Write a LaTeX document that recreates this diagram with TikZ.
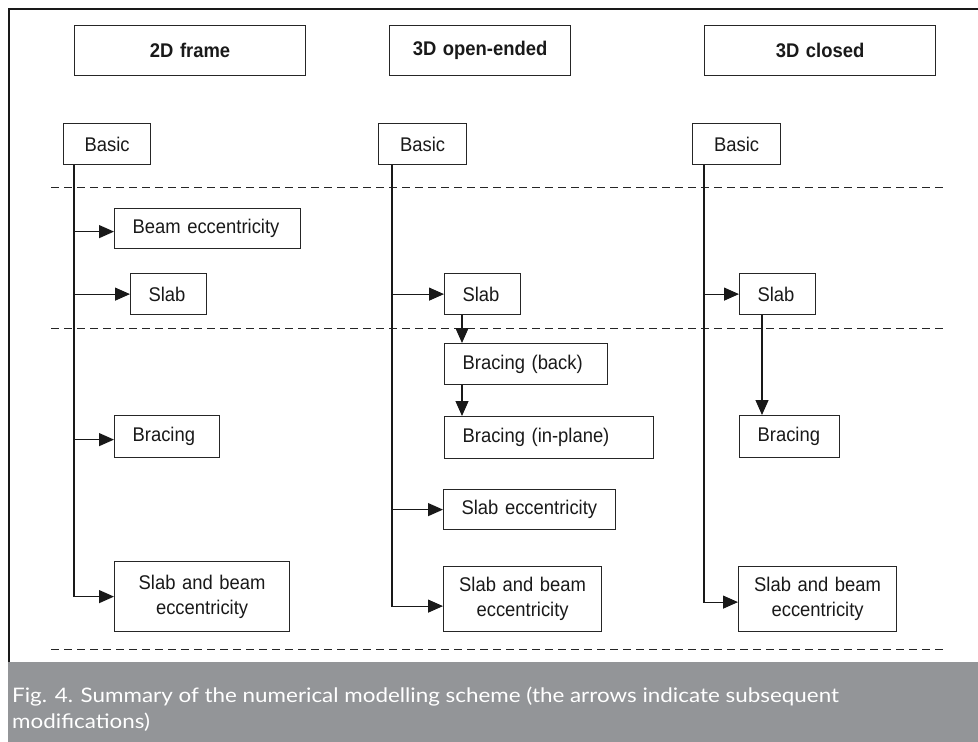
\documentclass[tikz,border=0pt]{standalone}
\usepackage{fontspec}
\setmainfont[FakeStretch=0.93]{Liberation Sans}
\newfontfamily\capfont[FakeStretch=1.12]{Lato}
\usetikzlibrary{arrows.meta,positioning,calc}
\definecolor{band}{RGB}{147,149,152}

\begin{document}
\begin{tikzpicture}[x=1pt,y=-1pt,>={Triangle[length=15pt,width=13pt]},
  box/.style={draw=black!85,line width=1.2pt,anchor=north west,inner xsep=18pt,inner ysep=0pt,align=left,text=black!90,font=\fontsize{19.8}{25}\selectfont},
  head/.style={box,align=center,font=\bfseries\fontsize{19.8}{25}\selectfont},
  link/.style={->,line width=1.2pt,black!90},
  sep/.style={line width=1pt,black!85,dash pattern=on 8pt off 5pt}]
\useasboundingbox(0,0)rectangle(978,742);
\fill[band](7.7,662)rectangle(978,742);
\draw[line width=2.6pt,black!90](9,662)--(9,9)--(978,9);
\foreach \y in {187,328,649}\draw[sep](51,\y)--(947,\y);

\node[head,text width=195pt,minimum height=50pt](h2d)at(74,25){2D frame};
\node[head,text width=145pt,minimum height=50pt](h3do)at(389,25){3D open-ended};
\node[head,text width=195pt,minimum height=50pt](h3dc)at(704,25){3D closed};

\node[box,align=center,text width=51pt,minimum height=41pt](b2d)at(63,123){Basic};
\node[box,align=center,text width=52pt,minimum height=41pt](b3do)at(378,123){Basic};
\node[box,align=center,text width=52pt,minimum height=41pt](b3dc)at(692,123){Basic};

\node[box,text width=150pt,minimum height=40pt](beam2d)at(114,208){Beam eccentricity};
\node[box,text width=40pt,minimum height=41pt](slab2d)at(130,273){Slab};
\node[box,text width=69pt,minimum height=42pt](brac2d)at(114,415){Bracing};
\node[box,align=center,inner xsep=14pt,text width=147pt,minimum height=70pt](sbe2d)at(114,561){Slab and beam\\eccentricity};

\node[box,text width=40pt,minimum height=41pt](slab3do)at(444,273){Slab};
\node[box,text width=127pt,minimum height=41pt](brback)at(444,343){Bracing (back)};
\node[box,text width=173pt,minimum height=42pt](brin)at(444,416){Bracing (in-plane)};
\node[box,text width=136pt,minimum height=40pt](slabecc)at(443,489){Slab eccentricity};
\node[box,align=center,inner xsep=14pt,text width=130pt,minimum height=65pt](sbe3do)at(443,566){Slab and beam\\eccentricity};

\node[box,text width=40pt,minimum height=41pt](slab3dc)at(739,273){Slab};
\node[box,text width=64pt,minimum height=42pt](brac3dc)at(739,415){Bracing};
\node[box,align=center,inner xsep=14pt,text width=130pt,minimum height=65pt](sbe3dc)at(738,566){Slab and beam\\eccentricity};

\coordinate(a2d)at([xshift=11pt]b2d.south west);
\coordinate(a3do)at([xshift=14pt]b3do.south west);
\coordinate(a3dc)at([xshift=12pt]b3dc.south west);

\draw[link](a2d)|-(sbe2d.west);
\draw[link](a2d|-beam2d.west)++(0,3)--([yshift=-3pt]beam2d.west);
\draw[link](a2d|-slab2d.west)--(slab2d.west);
\draw[link](a2d|-brac2d.west)++(0,3)--([yshift=-3pt]brac2d.west);

\draw[link](a3do)|-([yshift=-7pt]sbe3do.west);
\draw[link](a3do|-slab3do.west)--(slab3do.west);
\draw[link](a3do|-slabecc.west)--(slabecc.west);
\draw[link]([xshift=18pt]slab3do.south west)--([xshift=18pt]brback.north west);
\draw[link]([xshift=18pt]brback.south west)--([xshift=18pt]brin.north west);

\draw[link](a3dc)|-([yshift=-3pt]sbe3dc.west);
\draw[link](a3dc|-slab3dc.west)--(slab3dc.west);
\draw[link]([xshift=23pt]slab3dc.south west)--([xshift=23pt]brac3dc.north west);

\node[anchor=north west,inner sep=0pt,align=left,text=white,font=\capfont\fontsize{20}{26}\selectfont](cap)at(12,687){Fig. 4. Summary of the numerical modelling scheme (the arrows indicate subsequent\\modifications)};
\end{tikzpicture}
\end{document}
